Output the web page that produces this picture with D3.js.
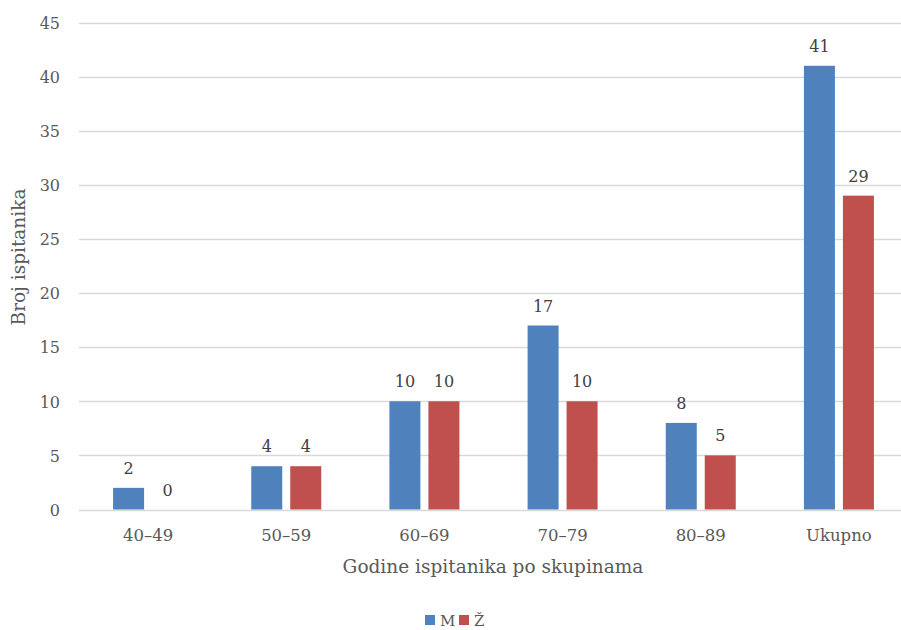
<!DOCTYPE html>
<html>
<head>
<meta charset="utf-8">
<script src="https://cdn.jsdelivr.net/npm/d3@7"></script>
<style>
  html, body { margin: 0; padding: 0; background: #fff; }
  svg { display: block; font-family: "DejaVu Serif", serif; }
</style>
</head>
<body>
<svg id="chart" width="901" height="630"></svg>
<script>
// Age groups and counts of respondents by sex
const categories = ["40–49", "50–59", "60–69", "70–79", "80–89", "Ukupno"];
const seriesNames = ["M", "Ž"];
const valuesM = [2, 4, 10, 17, 8, 41];
const valuesZ = [0, 4, 10, 10, 5, 29];
const yTicks = [0, 5, 10, 15, 20, 25, 30, 35, 40, 45];
const colors = ["#4f81bd", "#c0504d"];

const series = [valuesM, valuesZ];
const svg = d3.select("#chart");

const x0 = d3.scaleBand().domain(categories).range([79, 908]).padding(0);
const x1 = d3.scaleBand().domain(seriesNames).range([0, 70]).paddingInner(0.205).paddingOuter(0);
const y = d3.scaleLinear().domain([0, 45]).range([509.5, 22.5]);

// horizontal gridlines (the zero line doubles as the category axis)
svg.append("g")
  .selectAll("line")
  .data(yTicks)
  .join("line")
  .attr("x1", 79).attr("x2", 901)
  .attr("y1", d => Math.round(y(d)) + 0.5)
  .attr("y2", d => Math.round(y(d)) + 0.5)
  .attr("stroke", "#d9d9d9")
  .attr("stroke-width", 1.3);

// value axis labels
const yAxis = d3.axisLeft(y).tickValues(yTicks).tickSize(0).tickPadding(0);
const gy = svg.append("g").attr("transform", "translate(60,0)").call(yAxis);
gy.select(".domain").remove();
gy.selectAll("text")
  .attr("font-family", "DejaVu Serif")
  .attr("font-size", 16)
  .attr("fill", "#595959")
  .attr("dy", "0.36em");

// category axis labels
const xAxis = d3.axisBottom(x0).tickSize(0).tickPadding(0);
const gx = svg.append("g").attr("transform", "translate(0,541)").call(xAxis);
gx.select(".domain").remove();
gx.selectAll("text")
  .attr("font-family", "DejaVu Serif")
  .attr("font-size", 16.5)
  .attr("fill", "#595959")
  .attr("dy", 0);

// bars
const groups = svg.append("g")
  .selectAll("g")
  .data(categories)
  .join("g")
  .attr("transform", d => `translate(${x0(d) + x0.bandwidth() / 2 - 35},0)`);

groups.selectAll("rect")
  .data((d, i) => seriesNames.map((s, j) => ({ s, v: series[j][i] })))
  .join("rect")
  .attr("x", d => x1(d.s))
  .attr("width", x1.bandwidth())
  .attr("y", d => y(d.v))
  .attr("height", d => y(0) - y(d.v))
  .attr("fill", (d, j) => colors[j]);

// value labels above bars
groups.selectAll("text")
  .data((d, i) => seriesNames.map((s, j) => ({ s, v: series[j][i] })))
  .join("text")
  .attr("x", d => x1(d.s) + x1.bandwidth() / 2)
  .attr("y", d => y(d.v) - 14)
  .attr("text-anchor", "middle")
  .attr("font-size", 16)
  .attr("fill", "#404040")
  .text(d => d.v);

// axis titles
svg.append("text")
  .attr("x", 493).attr("y", 573)
  .attr("text-anchor", "middle")
  .attr("font-size", 18.5)
  .attr("fill", "#595959")
  .text("Godine ispitanika po skupinama");

svg.append("text")
  .attr("transform", "translate(25,257) rotate(-90)")
  .attr("text-anchor", "middle")
  .attr("font-size", 18.5)
  .attr("fill", "#595959")
  .text("Broj ispitanika");

// legend
const legend = svg.append("g").attr("transform", "translate(425,615)");
const items = [{ name: "M", dx: 0 }, { name: "Ž", dx: 34 }];
items.forEach((it, j) => {
  legend.append("rect")
    .attr("x", it.dx).attr("y", 0)
    .attr("width", 10).attr("height", 10)
    .attr("fill", colors[j]);
  legend.append("text")
    .attr("x", it.dx + 15).attr("y", 11)
    .attr("font-size", 15)
    .attr("fill", "#595959")
    .text(it.name);
});
</script>
</body>
</html>
